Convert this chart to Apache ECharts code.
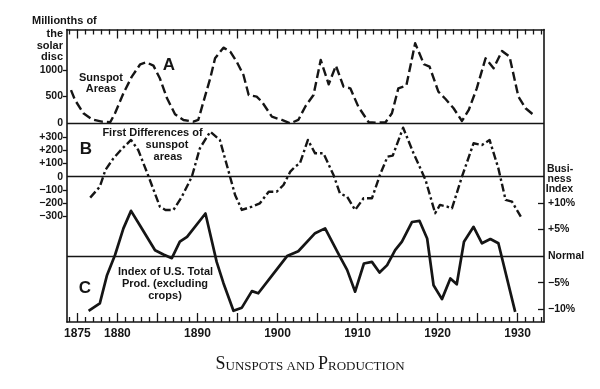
<!DOCTYPE html>
<html>
<head>
<meta charset="utf-8">
<script src="https://cdn.jsdelivr.net/npm/echarts@6/dist/echarts.min.js"></script>
<style>html,body{margin:0;padding:0;background:#fff;}#c{width:600px;height:389px;}</style>
</head>
<body>
<div id="c"></div>
<script>
// ---- Data ----
const sunspotYears = [1874.2,1874.7,1875.75,1876.8,1878.05,1879.1,1879.7,1880.75,1881.8,1882.85,1883.6,1884.5,1885.3,1886.2,1887.2,1888.25,1889.5,1890.1,1890.75,1891.6,1892.2,1893.25,1894.1,1894.9,1895.75,1896.4,1897.4,1898.05,1899.3,1900.55,1901.6,1902.6,1903.5,1904.5,1905.4,1906.4,1907.3,1908.25,1909.1,1910.1,1911.4,1912.4,1913.5,1914.3,1915.1,1916.1,1917.2,1918.3,1919.0,1920.1,1921.0,1922.0,1923.05,1923.9,1924.9,1926.0,1927.0,1928.05,1929.0,1930.1,1931.0,1932.0];
const sunspotAreas = [620,436,187,75,30,19,187,562,873,1105,1142,1079,843,468,169,62,30,62,404,843,1217,1416,1341,1154,904,530,498,404,124,62,0,62,320,530,1185,730,1079,685,655,311,19,11,19,187,655,704,1498,1105,1060,592,455,281,43,249,655,1217,1030,1354,1247,498,281,155];

const diffYears = [1876.6,1877.8,1878.5,1879.5,1880.55,1881.7,1882.6,1883.9,1885.3,1886.0,1887.0,1888.05,1889.3,1890.3,1891.6,1892.8,1893.9,1894.7,1895.55,1896.8,1897.8,1898.9,1899.9,1900.75,1901.6,1902.2,1902.8,1903.8,1904.7,1905.75,1907.0,1907.8,1908.7,1909.7,1910.75,1911.8,1912.8,1913.75,1914.4,1915.7,1917.0,1918.5,1919.7,1920.3,1921.2,1921.8,1923.05,1924.5,1925.55,1926.5,1927.6,1928.5,1929.3,1930.4];
const diffValues = [-159,-76,51,139,210,278,202,0,-227,-252,-252,-152,0,215,341,278,38,-139,-252,-227,-202,-114,-114,-63,38,76,101,278,177,177,13,-126,-152,-252,-164,-164,13,152,159,371,177,-25,-277,-214,-227,-240,0,253,240,278,63,-176,-189,-303];

const prodYears = [1876.4,1877.8,1878.7,1879.7,1880.75,1881.7,1882.8,1884.7,1885.75,1886.8,1887.8,1888.7,1891.0,1892.4,1893.25,1894.5,1895.55,1896.8,1897.6,1899.5,1901.2,1902.6,1904.7,1905.95,1907.8,1908.7,1909.7,1910.8,1911.8,1912.75,1913.7,1914.7,1915.55,1916.8,1917.75,1918.7,1919.5,1920.55,1921.6,1922.4,1923.3,1924.5,1925.55,1926.6,1927.6,1929.7];
const prodIndex = [-10.3,-8.9,-3.6,0.2,5.2,8.5,5.8,1.1,0.3,-0.4,2.7,3.6,8.0,-1.1,-5.1,-10.3,-9.7,-6.6,-7.0,-3.3,0,0.9,4.3,5.2,-0.1,-2.6,-6.7,-1.4,-1.1,-3.1,-1.7,1.1,2.7,6.4,6.6,3.3,-5.5,-8.1,-4.2,-5.3,2.7,5.5,2.4,3.2,2.4,-10.5];

const yearLabels = [1875,1880,1890,1900,1910,1920,1930];
const areaTicks = [0,500,1000];
const diffTicks = [-300,-200,-100,0,100,200,300];
const indexTicks = [-10,-5,0,5,10];

// ---- Build ----
const zip = (xs, ys) => xs.map((x, i) => [x, ys[i]]);
const allYears = [];
for (let y = 1874; y <= 1933; y++) allYears.push(y);
const majorYears = allYears.filter(y => y % 5 === 0);
const minorYears = allYears.filter(y => y % 5 !== 0);

const INK = '#151515';
const FONT = "'Liberation Sans', Arial, sans-serif";
const SERIF = "'Liberation Serif', 'DejaVu Serif', serif";
const XMIN = 1873.7, XMAX = 1933.3;

function xAx(pos, ticks, len, withLine, withLabels) {
  return {
    type: 'value', gridIndex: 0, position: pos, min: XMIN, max: XMAX,
    axisLine: { show: withLine, onZero: false, lineStyle: { color: INK, width: 1.6 } },
    axisTick: { show: true, inside: true, length: len, customValues: ticks, lineStyle: { color: INK, width: 1.3 } },
    axisLabel: withLabels ? { show: true, customValues: yearLabels, color: INK, fontFamily: FONT, fontWeight: 'bold', fontSize: 12, margin: 6, formatter: v => String(v) } : { show: false },
    splitLine: { show: false }
  };
}

const zeroLine = {
  silent: true, symbol: ['none', 'none'], animation: false,
  label: { show: false },
  lineStyle: { color: INK, width: 1.3, type: 'solid' },
  data: [{ yAxis: 0 }]
};

const chart = echarts.init(document.getElementById('c'), null, { renderer: 'canvas' });
chart.setOption({
  animation: false,
  backgroundColor: '#ffffff',
  grid: [{ left: 67, right: 56, top: 29.5, bottom: 67, outerBoundsMode: 'none', containLabel: false }],
  xAxis: [
    xAx('bottom', majorYears, 9, true, true),
    xAx('bottom', minorYears, 5, false, false),
    xAx('top', majorYears, 9, true, false),
    xAx('top', minorYears, 5, false, false)
  ],
  yAxis: [
    { type: 'value', gridIndex: 0, position: 'left', min: -3721, max: 1756,
      axisLine: { show: true, onZero: false, lineStyle: { color: INK, width: 1.6 } },
      axisTick: { show: true, inside: false, length: 4, customValues: [500, 1000], lineStyle: { color: INK, width: 1.3 } },
      axisLabel: { customValues: areaTicks, color: INK, fontFamily: FONT, fontWeight: 'bold', fontSize: 10.5, margin: 4, formatter: v => String(v) },
      splitLine: { show: false } },
    { type: 'value', gridIndex: 0, position: 'left', min: -1101, max: 1115,
      axisLine: { show: false },
      axisTick: { show: true, inside: false, length: 4, customValues: [-300, -200, -100, 100, 200, 300], lineStyle: { color: INK, width: 1.3 } },
      axisLabel: { customValues: diffTicks, color: INK, fontFamily: FONT, fontWeight: 'bold', fontSize: 10.5, margin: 4,
        formatter: v => v > 0 ? '+' + v : (v < 0 ? '\u2212' + Math.abs(v) : '0') },
      splitLine: { show: false } },
    { type: 'value', gridIndex: 0, position: 'right', min: -12.4, max: 42.6,
      axisLine: { show: true, onZero: false, lineStyle: { color: INK, width: 1.6 } },
      axisTick: { show: true, inside: true, length: 6, customValues: [-10, -5, 5, 10], lineStyle: { color: INK, width: 1.3 } },
      axisLabel: { customValues: indexTicks, color: INK, fontFamily: FONT, fontWeight: 'bold', fontSize: 10.5, margin: 4,
        formatter: v => v === 0 ? 'Normal' : (v > 0 ? '+' : '\u2212') + Math.abs(v) + '%' },
      splitLine: { show: false } }
  ],
  series: [
    { name: 'Sunspot Areas', type: 'line', xAxisIndex: 0, yAxisIndex: 0, data: zip(sunspotYears, sunspotAreas),
      showSymbol: false, smooth: false, clip: false,
      lineStyle: { color: INK, width: 2.4, type: [9, 4], cap: 'butt', join: 'round' },
      markLine: zeroLine },
    { name: 'First Differences', type: 'line', xAxisIndex: 0, yAxisIndex: 1, data: zip(diffYears, diffValues),
      showSymbol: false, smooth: false, clip: false,
      lineStyle: { color: INK, width: 2.4, type: [8, 3, 2.5, 3], cap: 'butt', join: 'round' },
      markLine: zeroLine },
    { name: 'Production', type: 'line', xAxisIndex: 0, yAxisIndex: 2, data: zip(prodYears, prodIndex),
      showSymbol: false, smooth: false, clip: false,
      lineStyle: { color: INK, width: 2.7, type: 'solid', join: 'round' },
      markLine: zeroLine }
  ],
  graphic: [
    ...[
      ['Millionths of', 32, 21, 'left', 11],
      ['the', 63, 34, 'right', 11],
      ['solar', 63, 45.5, 'right', 11],
      ['disc', 63, 57, 'right', 11],
      ['Sunspot', 101, 77.5, 'center', 11],
      ['Areas', 101, 88.5, 'center', 11],
      ['A', 169, 65.5, 'center', 17],
      ['First Differences of', 152.5, 132.5, 'center', 11],
      ['sunspot', 167, 144.5, 'center', 11],
      ['areas', 168, 156.5, 'center', 11],
      ['B', 86, 149, 'center', 17],
      ['C', 85, 288, 'center', 17],
      ['Index of U.S. Total', 165.5, 272, 'center', 11],
      ['Prod. (excluding', 165, 284, 'center', 11],
      ['crops)', 165, 295.5, 'center', 11],
      ['Busi-', 560, 169.5, 'center', 10.5],
      ['ness', 559.5, 179, 'center', 10.5],
      ['Index', 559.5, 189, 'center', 10.5]
    ].map(([t, x, y, a, s]) => ({
      type: 'text', x: x, y: y, silent: true,
      style: { text: t, fill: INK, font: 'bold ' + s + 'px ' + FONT, textAlign: a, textVerticalAlign: 'middle', verticalAlign: 'middle' }
    })),
    { type: 'text', x: 310, y: 373, silent: true,
      style: {
        text: '{a|S}{b|UNSPOTS AND }{a|P}{b|RODUCTION}',
        textAlign: 'center', textVerticalAlign: 'bottom', verticalAlign: 'bottom',
        rich: {
          a: { fontFamily: SERIF, fontSize: 18, fontWeight: 'normal', fill: INK, color: INK, verticalAlign: 'bottom' },
          b: { fontFamily: SERIF, fontSize: 13, fontWeight: 'normal', fill: INK, color: INK, verticalAlign: 'bottom' }
        }
      } }
  ]
});
</script>
</body>
</html>
